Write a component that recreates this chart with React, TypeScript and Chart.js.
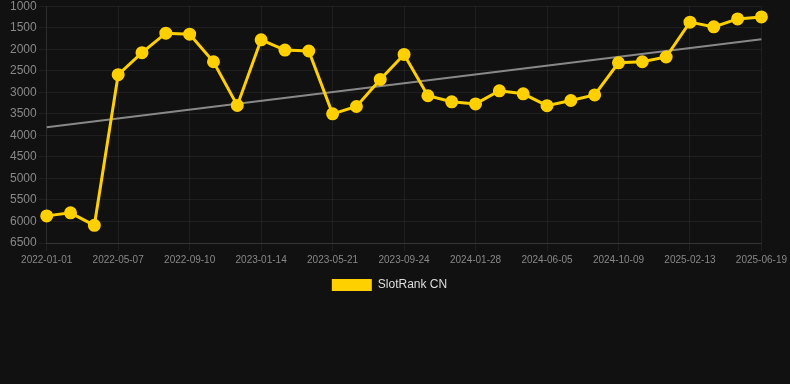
import React, { useEffect, useRef } from "react";
import { Chart, registerables } from "chart.js";

Chart.register(...registerables);

const dates = [
  "2022-01-01", "2022-02-12", "2022-03-26", "2022-05-07", "2022-06-18", "2022-07-30",
  "2022-09-10", "2022-10-22", "2022-12-03", "2023-01-14", "2023-02-25", "2023-04-08",
  "2023-05-21", "2023-07-02", "2023-08-13", "2023-09-24", "2023-11-05", "2023-12-17",
  "2024-01-28", "2024-03-10", "2024-04-22", "2024-06-05", "2024-07-17", "2024-08-28",
  "2024-10-09", "2024-11-20", "2025-01-01", "2025-02-13", "2025-03-27", "2025-05-08",
  "2025-06-19",
];

const rankCN = [
  5870, 5800, 6090, 2590, 2080, 1627, 1650, 2290, 3305, 1780, 2020, 2040,
  3500, 3330, 2700, 2120, 3080, 3220, 3270, 2965, 3035, 3310, 3190, 3060,
  2315, 2290, 2180, 1370, 1480, 1295, 1250,
];

const trendStart = 3810;
const trendEnd = 1770;

const yTicks = [1000, 1500, 2000, 2500, 3000, 3500, 4000, 4500, 5000, 5500, 6000, 6500];

export default function App() {
  const ref = useRef<HTMLCanvasElement | null>(null);

  useEffect(() => {
    document.body.style.margin = "0";
    document.body.style.background = "#111111";
    if (!ref.current) return;
    const trend = dates.map((_, i) =>
      i === 0 ? trendStart : i === dates.length - 1 ? trendEnd : null
    );
    const chart = new Chart(ref.current, {
      type: "line",
      data: {
        labels: dates,
        datasets: [
          {
            label: "SlotRank CN",
            data: rankCN,
            borderColor: "#FFD000",
            backgroundColor: "#FFD000",
            borderWidth: 3,
            pointRadius: 5,
            pointBackgroundColor: "#FFD000",
            pointBorderColor: "#FFD000",
            tension: 0,
            order: 1,
          },
          {
            label: "trend",
            data: trend,
            borderColor: "rgba(150,150,150,0.9)",
            backgroundColor: "rgba(150,150,150,0.9)",
            borderWidth: 2,
            pointRadius: 0,
            spanGaps: true,
            order: 2,
          },
        ],
      },
      options: {
        animation: false,
        responsive: false,
        maintainAspectRatio: false,
        layout: { padding: { left: 8, right: 19, top: 0 } },
        plugins: {
          legend: {
            position: "bottom",
            labels: {
              color: "#dddddd",
              boxWidth: 40,
              boxHeight: 12,
              font: { size: 12 },
              generateLabels: (c) =>
                Chart.defaults.plugins.legend.labels
                  .generateLabels(c)
                  .filter((l) => l.text !== "trend")
                  .map((l) => ({ ...l, lineWidth: 0 })),
            },
          },
          tooltip: { enabled: false },
        },
        scales: {
          x: {
            grid: {
              color: (ctx) =>
                ctx.index % 3 === 0 ? "rgba(255,255,255,0.06)" : "rgba(0,0,0,0)",
            },
            border: { color: "rgba(255,255,255,0.1)" },
            ticks: {
              color: "#888888",
              font: { size: 10 },
              autoSkip: false,
              maxRotation: 0,
              callback: (_v, i) => (i % 3 === 0 ? dates[i] : ""),
            },
          },
          y: {
            reverse: true,
            min: 1000,
            max: 6500,
            afterBuildTicks: (axis) => {
              axis.ticks = yTicks.map((v) => ({ value: v }));
            },
            grid: { color: "rgba(255,255,255,0.06)", tickLength: 8 },
            border: { color: "rgba(255,255,255,0.06)" },
            ticks: {
              color: "#888888",
              font: { size: 12 },
              padding: 2,
              callback: (v) => String(v),
            },
          },
        },
      },
    });
    return () => chart.destroy();
  }, []);

  return (
    <div style={{ width: 790, height: 384, background: "#111111", overflow: "hidden" }}>
      <canvas
        ref={ref}
        width={790}
        height={304}
        style={{ display: "block", marginTop: -3 }}
      />
    </div>
  );
}
